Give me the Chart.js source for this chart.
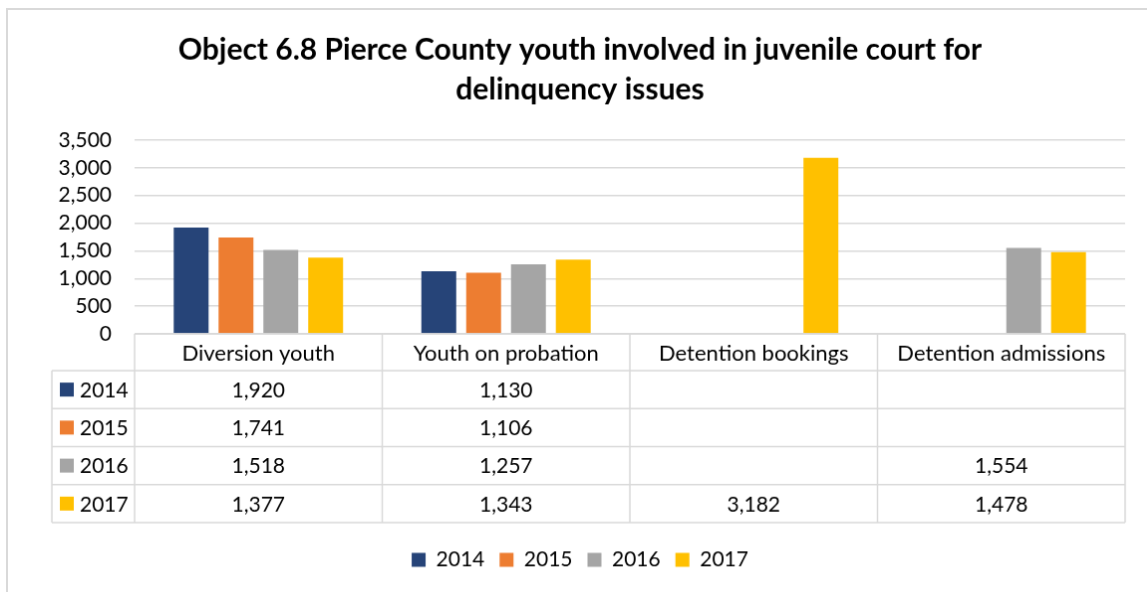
<!DOCTYPE html>
<html>
<head>
<meta charset="utf-8">
<script src="https://cdn.jsdelivr.net/npm/chart.js@4.4.1/dist/chart.umd.min.js"></script>
<style>
  html, body { margin: 0; padding: 0; background: #fff; overflow: hidden; }
  #chart { position: absolute; left: 6px; top: 8px; border: 2px solid #d9d9d9; }
</style>
</head>
<body>
<canvas id="chart" width="1152" height="600"></canvas>
<script>
// Juvenile court delinquency counts by year
var categories = ["Diversion youth", "Youth on probation", "Detention bookings", "Detention admissions"];
var years = ["2014", "2015", "2016", "2017"];
var values2014 = [1920, 1130, null, null];
var values2015 = [1741, 1106, null, null];
var values2016 = [1518, 1257, null, 1554];
var values2017 = [1377, 1343, 3182, 1478];
var yearColors = ["#264478", "#ED7D31", "#A5A5A5", "#FFC000"];
var yMax = 3500;
var yStep = 500;

var FONT = "Lato";
var gridColor = "#d9d9d9";
var tableH = 190;

function fmt(v) {
    return v.toLocaleString("en-US");
}

// data table drawn under the plot, columns follow the x scale
var dataTable = {
    id: "dataTable",
    afterDraw: function (chart) {
        var ctx = chart.ctx;
        var area = chart.chartArea;
        var xs = chart.scales.x;
        var colW = area.width / categories.length;
        var headH = 37;
        var top = area.bottom;
        var rowH = (tableH - headH) / years.length;
        var labelLeft = 44;

        ctx.save();
        ctx.strokeStyle = gridColor;
        ctx.lineWidth = 1.5;
        ctx.beginPath();
        ctx.moveTo(area.left, top);
        ctx.lineTo(area.right, top);
        for (var r = 0; r <= years.length; r++) {
            var yy = top + headH + r * rowH;
            ctx.moveTo(labelLeft, yy);
            ctx.lineTo(area.right, yy);
        }
        ctx.moveTo(labelLeft, top + headH);
        ctx.lineTo(labelLeft, top + tableH);
        for (var c = 0; c <= categories.length; c++) {
            var xx = area.left + c * colW;
            ctx.moveTo(xx, top);
            ctx.lineTo(xx, top + tableH);
        }
        ctx.stroke();

        ctx.fillStyle = "#000";
        ctx.font = "22px " + FONT;
        ctx.textBaseline = "middle";
        ctx.textAlign = "center";
        categories.forEach(function (name, i) {
            ctx.fillText(name, xs.getPixelForValue(i), top + headH / 2 + 1);
        });

        ctx.font = "21px " + FONT;
        chart.data.datasets.forEach(function (ds, r) {
            var cy = top + headH + rowH * r + rowH / 2;
            ctx.fillStyle = ds.backgroundColor;
            ctx.fillRect(labelLeft + 8, cy - 7, 14, 14);
            ctx.fillStyle = "#000";
            ctx.textAlign = "left";
            ctx.fillText(ds.label, labelLeft + 28, cy + 1);
            ctx.textAlign = "center";
            ds.data.forEach(function (v, i) {
                if (v !== null) {
                    ctx.fillText(fmt(v), xs.getPixelForValue(i), cy + 1);
                }
            });
        });
        ctx.restore();
    }
};

var seriesValues = [values2014, values2015, values2016, values2017];

var ctx = document.getElementById("chart").getContext("2d");
var myChart = new Chart(ctx, {
    type: "bar",
    data: {
        labels: categories,
        datasets: years.map(function (y, i) {
            return {
                label: y,
                data: seriesValues[i],
                backgroundColor: yearColors[i],
                categoryPercentage: 0.724,
                barPercentage: 0.778
            };
        })
    },
    options: {
        responsive: false,
        animation: false,
        layout: {
            padding: { left: 27, right: 31, top: 0, bottom: 26 }
        },
        plugins: {
            title: {
                display: true,
                text: ["Object 6.8 Pierce County youth involved in juvenile court for", "delinquency issues"],
                color: "#000",
                font: { family: FONT, size: 30, weight: "bold", lineHeight: 40 / 30 },
                padding: { top: 20, bottom: 31 }
            },
            legend: {
                position: "bottom",
                labels: {
                    color: "#000",
                    font: { family: FONT, size: 21 },
                    boxWidth: 14,
                    boxHeight: 14,
                    padding: 15
                }
            },
            tooltip: { enabled: false }
        },
        scales: {
            x: {
                grid: { display: false },
                border: { display: false },
                ticks: { display: false },
                afterFit: function (scale) { scale.height = tableH + 12; }
            },
            y: {
                min: 0,
                max: yMax,
                border: { display: false },
                grid: { color: gridColor, lineWidth: 1.5, drawTicks: false },
                ticks: {
                    stepSize: yStep,
                    autoSkip: false,
                    padding: 23,
                    color: "#000",
                    font: { family: FONT, size: 21, lineHeight: 1 },
                    callback: function (v) { return fmt(v); }
                },
                afterFit: function (scale) { scale.width = 100; }
            }
        }
    },
    plugins: [dataTable]
});
</script>
</body>
</html>
